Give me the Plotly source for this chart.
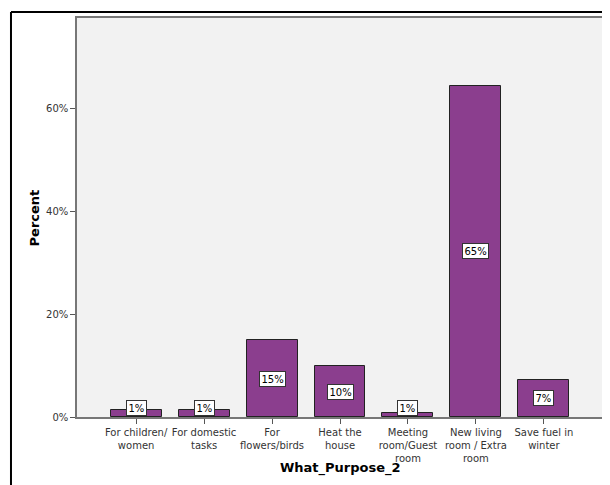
import plotly.graph_objects as go

# data
categories = ["For children/<br>women", "For domestic<br>tasks", "For<br>flowers/birds",
              "Heat the<br>house", "Meeting<br>room/Guest<br>room",
              "New living<br>room / Extra<br>room", "Save fuel in<br>winter"]
percents = [1.4, 1.4, 14.9, 9.9, 0.7, 64.3, 7.2]
labels = ["1%", "1%", "15%", "10%", "1%", "65%", "7%"]
y_ticks = [0, 20, 40, 60]
y_ticktext = ["0%", "20%", "40%", "60%"]

bar_color = "#8B3E8E"
font_main = "DejaVu Sans"

fig = go.Figure()
fig.add_trace(go.Bar(x=list(range(len(categories))), y=percents, width=0.75,
                     marker=dict(color=bar_color, line=dict(color="#222222", width=1)),
                     hoverinfo="y"))

# white value boxes, centred on the bar (small bars get them near the top)
for i in range(len(categories)):
    fig.add_annotation(x=i, y=max(percents[i] / 2, 1.75), text=labels[i], showarrow=False,
                       font=dict(family=font_main, size=10, color="black"),
                       bgcolor="white", bordercolor="#333333", borderwidth=1, borderpad=1.5)

# axis titles placed by hand
fig.add_annotation(x=0.5, y=-0.128, xref="paper", yref="paper", yanchor="middle", showarrow=False,
                   text="<b>What_Purpose_2</b>", font=dict(family=font_main, size=13, color="black"))
fig.add_annotation(x=-0.08, y=0.5, xref="paper", yref="paper", xanchor="center", textangle=-90,
                   showarrow=False,
                   text="<b>Percent</b>", font=dict(family=font_main, size=13, color="black"))

# outer black frame (left and top edges)
fig.add_shape(type="line", xref="paper", yref="paper", x0=-0.1255, x1=-0.1255, y0=-0.2, y1=1.015,
              line=dict(color="black", width=2))
fig.add_shape(type="line", xref="paper", yref="paper", x0=-0.1255, x1=1.02, y0=1.015, y1=1.015,
              line=dict(color="black", width=2))

# page body has an 8px margin, so the figure is sized to fit inside the window
fig.update_layout(width=602, height=477, margin=dict(l=69, r=7, t=10, b=68),
                  paper_bgcolor="white", plot_bgcolor="#F2F2F2", showlegend=False,
                  font=dict(family=font_main, size=10, color="#333333"), bargap=0)
fig.update_xaxes(range=[-0.87, 6.87], tickvals=list(range(len(categories))), ticktext=categories,
                 ticks="outside", ticklen=5, tickcolor="#555555", showgrid=False, zeroline=False,
                 showline=True, linecolor="#777777", linewidth=1.5, mirror=True, tickangle=0,
                 automargin=False)
fig.update_yaxes(range=[0, 77.5], tickvals=y_ticks, ticktext=y_ticktext,
                 ticks="outside", ticklen=5, tickcolor="#555555", showgrid=False, zeroline=False,
                 showline=True, linecolor="#777777", linewidth=1.5, mirror=True,
                 automargin=False)

fig.write_html("out.html")
